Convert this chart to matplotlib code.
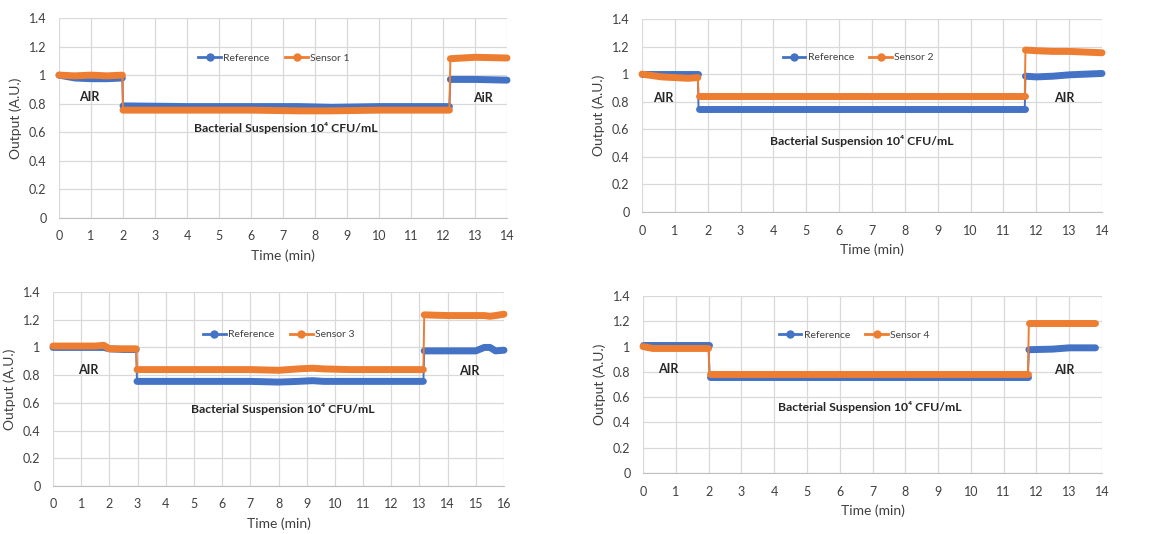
import numpy as np
import matplotlib
matplotlib.use("Agg")
import matplotlib.pyplot as plt
from matplotlib.lines import Line2D

plt.rcParams['font.family'] = ['Lato', 'DejaVu Sans']

BLUE = '#4472C4'
ORANGE = '#ED7D31'
GRID = '#D9D9D9'

# panel 1
t1 = [0, 0.5, 1.0, 1.5, 1.98, 2.0, 4, 6, 7.5, 8.5, 10, 12.2, 12.23, 13, 14]
ref1 = [1.0, 0.98, 0.975, 0.975, 0.98, 0.785, 0.78, 0.78, 0.78, 0.775, 0.78, 0.78, 0.97, 0.97, 0.965]
sen1 = [1.0, 0.995, 1.0, 0.995, 1.0, 0.755, 0.755, 0.755, 0.75, 0.75, 0.755, 0.755, 1.115, 1.125, 1.12]

# panel 2
t2 = [0, 0.3, 0.6, 1.0, 1.4, 1.7, 1.72, 4, 8, 11.65, 11.67, 12, 12.5, 13, 13.5, 14]
ref2 = [1.0, 1.0, 1.0, 1.0, 1.0, 1.0, 0.75, 0.75, 0.75, 0.75, 0.985, 0.98, 0.985, 0.995, 1.0, 1.005]
sen2 = [1.0, 0.99, 0.98, 0.975, 0.97, 0.975, 0.845, 0.845, 0.845, 0.845, 1.175, 1.17, 1.165, 1.165, 1.16, 1.155]

# panel 3
t3 = [0, 0.5, 1.0, 1.5, 1.8, 2.0, 2.5, 2.95, 2.98, 4, 5, 6, 7, 8, 8.7, 9.2, 9.6, 10.5,
      11.5, 12.5, 13.14, 13.17, 14, 15, 15.3, 15.5, 15.7, 16]
ref3 = [1.0, 1.0, 1.0, 1.0, 1.0, 0.99, 0.985, 0.985, 0.755, 0.755, 0.755, 0.755, 0.755, 0.75,
        0.755, 0.76, 0.755, 0.755, 0.755, 0.755, 0.755, 0.975, 0.975, 0.975, 1.0, 1.0, 0.975, 0.98]
sen3 = [1.01, 1.01, 1.01, 1.01, 1.015, 0.99, 0.99, 0.99, 0.84, 0.84, 0.84, 0.84, 0.84, 0.835,
        0.845, 0.85, 0.845, 0.84, 0.84, 0.84, 0.84, 1.235, 1.23, 1.23, 1.23, 1.225, 1.23, 1.24]

# panel 4
t4 = [0, 0.3, 1.0, 1.5, 2.0, 2.03, 4, 8, 11.74, 11.77, 12.5, 13, 13.8]
ref4 = [1.01, 1.01, 1.01, 1.01, 1.01, 0.76, 0.76, 0.76, 0.76, 0.975, 0.98, 0.99, 0.99]
sen4 = [1.0, 0.985, 0.985, 0.985, 0.985, 0.78, 0.78, 0.78, 0.78, 1.19, 1.19, 1.19, 1.19]

yticks = [0, 0.2, 0.4, 0.6, 0.8, 1.0, 1.2, 1.4]
ylabels = ['0', '0.2', '0.4', '0.6', '0.8', '1', '1.2', '1.4']

bact = 'Bacterial Suspension 10\u2074 CFU/mL'

panels = [
    # data, xmax, pixel box (left, top, right, bottom), sensor name, text spots
    dict(t=t1, ref=ref1, sen=sen1, xmax=14, box=(59, 18, 507, 218), name='Sensor 1',
         air_l=(0.94, 0.85, 'AIR'), air_r=(13.25, 0.84, 'AiR'), bac=(7.1, 0.63), leg=(0.48, 0.80)),
    dict(t=t2, ref=ref2, sen=sen2, xmax=14, box=(642, 19, 1102, 212), name='Sensor 2',
         air_l=(0.64, 0.83, 'AIR'), air_r=(12.84, 0.83, 'AIR'), bac=(6.7, 0.515), leg=(0.47, 0.80)),
    dict(t=t3, ref=ref3, sen=sen3, xmax=16, box=(53, 292, 504, 486), name='Sensor 3',
         air_l=(1.24, 0.837, 'AIR'), air_r=(14.76, 0.83, 'AIR'), bac=(8.16, 0.556), leg=(0.50, 0.78)),
    dict(t=t4, ref=ref4, sen=sen4, xmax=14, box=(643, 296, 1102, 473), name='Sensor 4',
         air_l=(0.76, 0.82, 'AIR'), air_r=(12.84, 0.815, 'AIR'), bac=(6.92, 0.52), leg=(0.46, 0.78)),
]

W, H = 1173, 534
fig = plt.figure(figsize=(W / 100, H / 100), dpi=100)


def draw_series(ax, t, y, color):
    t = np.asarray(t)
    y = np.asarray(y)
    # thin connecting line (shows the step)
    ax.plot(t, y, color=color, lw=1.4, zorder=3)
    # thick band for each level segment (dense markers in the original)
    breaks = np.where(np.abs(np.diff(y)) > 0.05)[0] + 1
    for seg_t, seg_y in zip(np.split(t, breaks), np.split(y, breaks)):
        ax.plot(seg_t, seg_y, color=color, lw=5, solid_capstyle='round', zorder=3, clip_on=False)


for p in panels:
    l, top, r, b = p['box']
    ax = fig.add_axes([l / W, 1 - b / H, (r - l) / W, (b - top) / H])
    draw_series(ax, p['t'], p['ref'], BLUE)
    draw_series(ax, p['t'], p['sen'], ORANGE)

    ax.set_xlim(0, p['xmax'])
    ax.set_ylim(0, 1.4)
    ax.set_xticks(range(0, p['xmax'] + 1))
    ax.set_yticks(yticks)
    ax.set_yticklabels(ylabels)
    ax.grid(True, color=GRID, lw=0.9)
    ax.set_axisbelow(True)
    for s in ['top', 'right', 'left']:
        ax.spines[s].set_visible(False)
    ax.spines['bottom'].set_color('#BFBFBF')
    ax.tick_params(axis='x', length=0, labelsize=9, colors='#404040', pad=9)
    ax.tick_params(axis='y', length=0, labelsize=9, colors='#404040', pad=9)
    ax.set_xlabel('Time (min)', fontsize=10, color='#404040', labelpad=5)
    ax.set_ylabel('Output (A.U.)', fontsize=10, color='#404040', labelpad=5)

    handles = [Line2D([], [], color=BLUE, lw=2, marker='o', ms=5),
               Line2D([], [], color=ORANGE, lw=2, marker='o', ms=5)]
    ax.legend(handles, ['Reference', p['name']], loc='center', bbox_to_anchor=p['leg'],
              ncol=2, frameon=False, fontsize=7.5, handlelength=2.2, handletextpad=0.2,
              columnspacing=1.5, labelcolor='#404040')

    for x, y, txt in [p['air_l'], p['air_r']]:
        ax.text(x, y, txt, ha='center', va='center', fontsize=9, fontweight='bold', color='#262626')
    ax.text(p['bac'][0], p['bac'][1], bact, ha='center', va='center', fontsize=8.8,
            fontweight='bold', color='#262626', family=['Lato', 'DejaVu Sans'])

fig.savefig('out.png', dpi=100)
